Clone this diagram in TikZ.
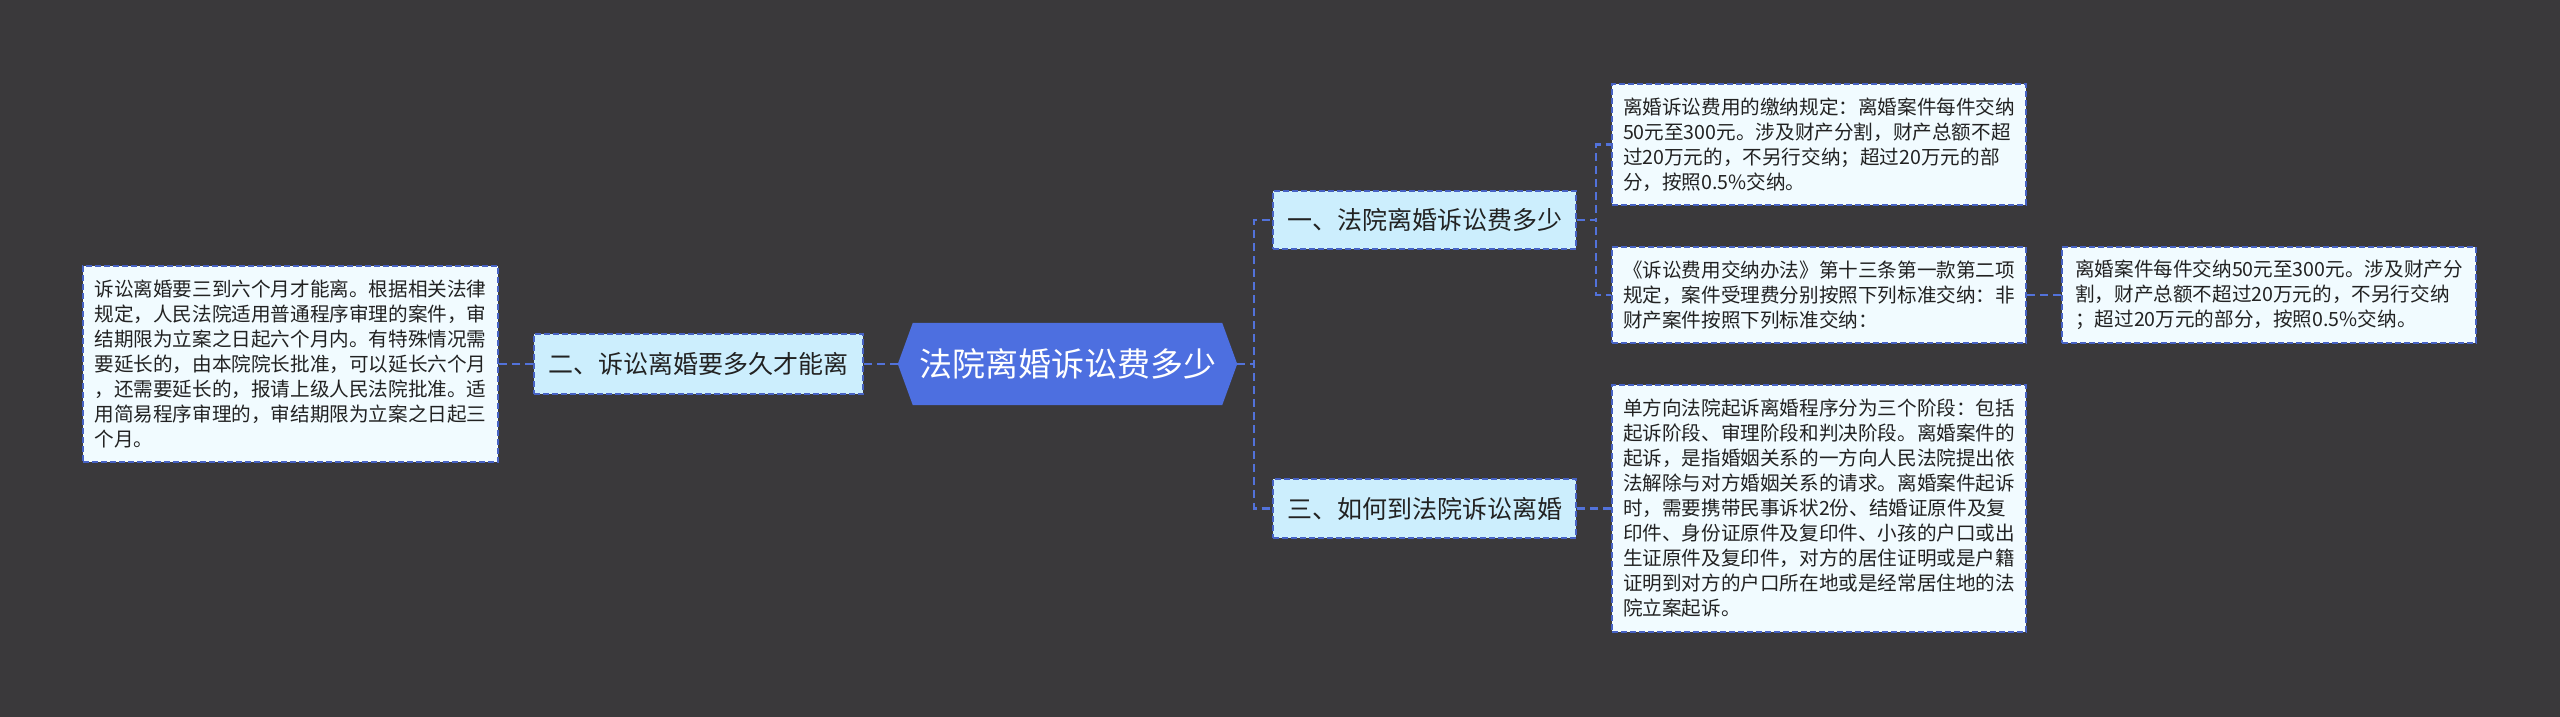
\documentclass[tikz,border=0pt]{standalone}
\usepackage{fontspec}
\newfontfamily\cjk{Noto Sans CJK SC}
\definecolor{bgc}{RGB}{58,57,59}
\definecolor{leaffill}{RGB}{241,251,255}
\definecolor{midfill}{RGB}{204,238,253}
\definecolor{cfill}{RGB}{77,111,224}
\definecolor{lc}{RGB}{82,114,218}
\definecolor{bc}{RGB}{70,98,196}
\definecolor{tc}{RGB}{34,34,34}
\tikzset{
  conn/.style={draw=lc, line width=2.2pt, dash pattern=on 8pt off 5pt},
  leafbox/.style={draw=bc, fill=leaffill, line width=2pt, dash pattern=on 6pt off 3pt,
    align=left, text=tc, inner sep=0pt, minimum width=414pt,
    font=\cjk\fontsize{19.6}{25}\selectfont},
  midbox/.style={draw=bc, fill=midfill, line width=2pt, dash pattern=on 6pt off 3pt,
    text=tc, inner sep=0pt, minimum width=303pt, minimum height=59pt,
    font=\cjk\fontsize{25}{30}\selectfont},
  hexframe/.style={inner sep=0pt, minimum width=339pt, minimum height=82pt},
  hextext/.style={text=white, inner sep=0pt, font=\cjk\fontsize{33}{38}\selectfont}
}
\begin{document}
\begin{tikzpicture}[x=1pt,y=-1pt]
\fill[bgc] (0,0) rectangle (2560,717);
\useasboundingbox (0,0) rectangle (2560,717);

% central topic
\node[hexframe] (c) at (1067.5,364) {};
\fill[cfill] (c.west) -- ([xshift=15pt]c.north west) -- ([xshift=-15pt]c.north east)
  -- (c.east) -- ([xshift=-15pt]c.south east) -- ([xshift=15pt]c.south west) -- cycle;
\node[hextext] (ct) at (c) {法院离婚诉讼费多少};

% first level
\node[midbox, minimum width=329pt, minimum height=60pt] (n2) at (698.5,364) {二、诉讼离婚要多久才能离};
\node[midbox, minimum height=58pt] (n1) at (1424.5,220) {一、法院离婚诉讼费多少};
\node[midbox] (n3) at (1424.5,508.5) {三、如何到法院诉讼离婚};

% leaves
\node[leafbox, minimum width=415pt, minimum height=196pt] (l) at (290.5,364) {诉讼离婚要三到六个月才能离。根据相关法律\\规定，人民法院适用普通程序审理的案件，审\\结期限为立案之日起六个月内。有特殊情况需\\要延长的，由本院院长批准，可以延长六个月\\，还需要延长的，报请上级人民法院批准。适\\用简易程序审理的，审结期限为立案之日起三\\个月。};
\node[leafbox, minimum height=121pt] (b1) at (1819,144.5) {离婚诉讼费用的缴纳规定：离婚案件每件交纳\\50元至300元。涉及财产分割，财产总额不超\\过20万元的，不另行交纳；超过20万元的部\\分，按照0.5\%交纳。};
\node[leafbox, minimum height=96pt] (b2) at (1819,295) {《诉讼费用交纳办法》第十三条第一款第二项\\规定，案件受理费分别按照下列标准交纳：非\\财产案件按照下列标准交纳：};
\node[leafbox, minimum height=96pt] (b3) at (2269,295) {离婚案件每件交纳50元至300元。涉及财产分\\割，财产总额不超过20万元的，不另行交纳\\；超过20万元的部分，按照0.5\%交纳。};
\node[leafbox, minimum height=247pt] (b4) at (1819,508.5) {单方向法院起诉离婚程序分为三个阶段：包括\\起诉阶段、审理阶段和判决阶段。离婚案件的\\起诉，是指婚姻关系的一方向人民法院提出依\\法解除与对方婚姻关系的请求。离婚案件起诉\\时，需要携带民事诉状2份、结婚证原件及复\\印件、身份证原件及复印件、小孩的户口或出\\生证原件及复印件，对方的居住证明或是户籍\\证明到对方的户口所在地或是经常居住地的法\\院立案起诉。};

% connectors
\draw[conn] (c.west) -- (n2.east);
\draw[conn] (n2.west) -- (l.east);
\draw[conn] (c.east) -- ++(17,0) |- (n1.west);
\draw[conn] (c.east) -- ++(17,0) |- (n3.west);
\draw[conn] (n1.east) -- ++(19,0) |- (b1.west);
\draw[conn] (n1.east) -- ++(19,0) |- (b2.west);
\draw[conn] (b2.east) -- (b3.west);
\draw[conn] (n3.east) -- (b4.west);
\end{tikzpicture}
\end{document}
